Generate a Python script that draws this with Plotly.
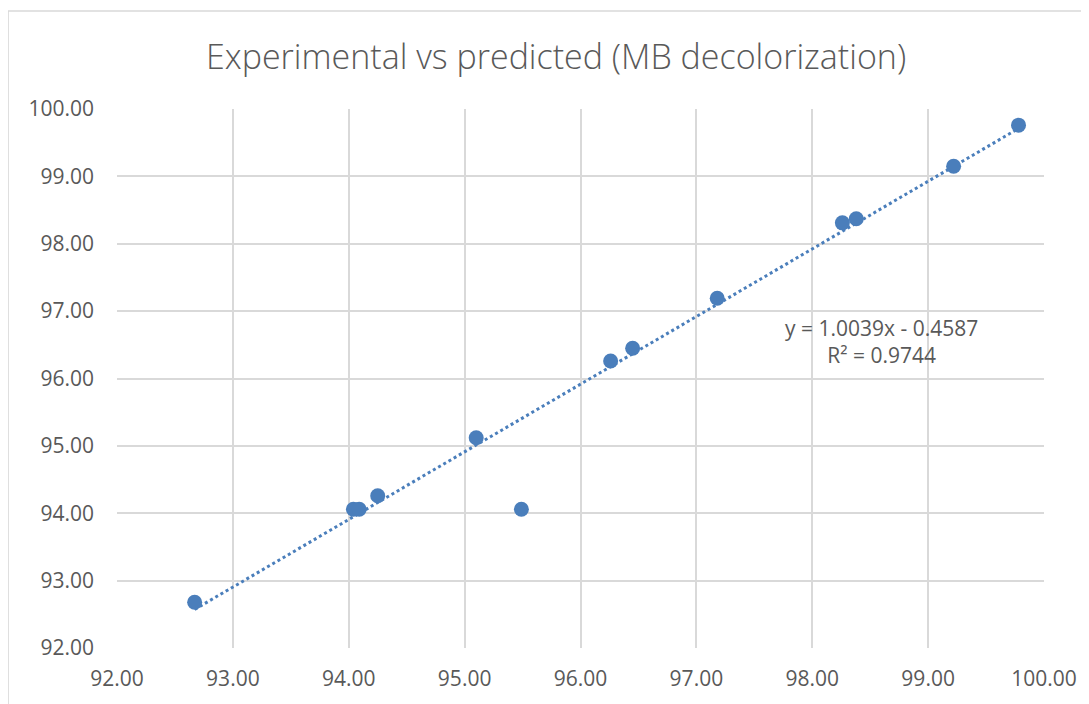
import plotly.graph_objects as go

experimental = [92.67, 94.04, 94.09, 94.25, 95.10, 95.49, 96.26, 96.45, 97.18, 98.26, 98.38, 99.22, 99.78]
predicted = [92.68, 94.06, 94.06, 94.26, 95.12, 94.06, 96.26, 96.45, 97.19, 98.31, 98.37, 99.15, 99.76]
slope = 1.0039
intercept = -0.4587
r2 = 0.9744
tick_vals = [92, 93, 94, 95, 96, 97, 98, 99, 100]
tick_text = ["%.2f" % v for v in tick_vals]

color = "#4a7ebb"
tx = [min(experimental), max(experimental)]
ty = [slope * v + intercept for v in tx]

fig = go.Figure()
fig.add_trace(go.Scatter(x=tx, y=ty, mode="lines",
                         line=dict(color=color, width=3, dash="dot"),
                         hoverinfo="skip", showlegend=False))
fig.add_trace(go.Scatter(x=experimental, y=predicted, mode="markers",
                         marker=dict(color=color, size=15),
                         showlegend=False))

fig.add_annotation(x=98.6, y=96.556, xref="x", yref="y",
                   text="y = %.4fx - %.4f<br>R² = %.4f" % (slope, -intercept, r2),
                   showarrow=False, align="center",
                   font=dict(family="Open Sans", size=21, color="#595959"))

fig.add_shape(type="rect", xref="paper", yref="paper",
              x0=-0.1175, x1=1.2, y0=-0.2, y1=1.1818,
              line=dict(color="#d9d9d9", width=1.5), layer="below")

axis_common = dict(range=[92, 100], tickvals=tick_vals, ticktext=tick_text,
                   showgrid=True, gridcolor="#d9d9d9", gridwidth=2,
                   zeroline=False, ticks="", showline=False,
                   tickfont=dict(family="Open Sans", size=21, color="#595959"))

# page body has an 8px offset; compensate so the plot area sits where the reference has it
fig.update_layout(
    width=1081, height=696,
    margin=dict(l=109, r=44, t=101, b=48),
    paper_bgcolor="white", plot_bgcolor="white",
    title=dict(text="Experimental vs predicted (MB decolorization)",
               x=0.507, xanchor="center", y=0.9296, yanchor="middle",
               font=dict(family="Open Sans", size=34, color="#595959", weight=300)),
    xaxis=dict(**axis_common, ticklabelstandoff=16),
    yaxis=dict(**axis_common, ticklabelstandoff=22),
)
fig.write_html("out.html")
